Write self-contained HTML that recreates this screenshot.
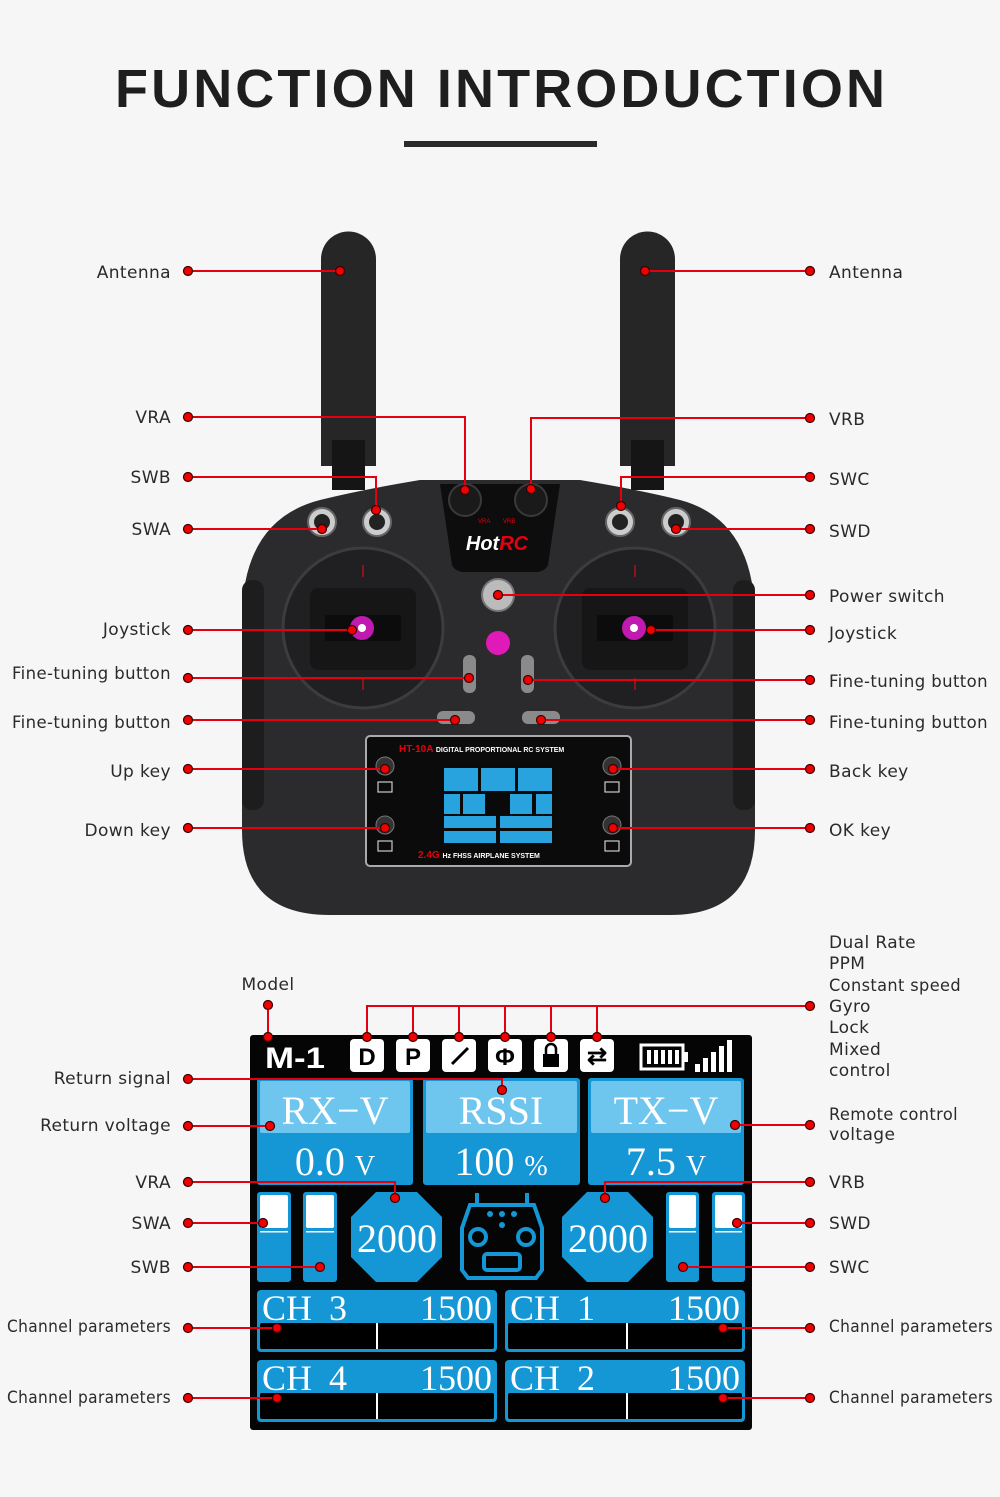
<!DOCTYPE html>
<html><head><meta charset="utf-8"><style>
html,body{margin:0;padding:0;background:#f6f6f6;}
svg{display:block}
.l{font-family:"DejaVu Sans","Liberation Sans",sans-serif;font-size:17px;letter-spacing:0.4px;fill:#2a2a2a}
.r{stroke:#e3000f;stroke-width:2;fill:none}
.d{fill:#f00000;stroke:#3a0000;stroke-width:1.2}
.s{font-family:"Liberation Serif","DejaVu Serif",serif;fill:#fff}
</style></head><body>
<svg width="1000" height="1497" viewBox="0 0 1000 1497" xmlns="http://www.w3.org/2000/svg">
<rect width="1000" height="1497" fill="#f6f6f6"/>
<text x="500" y="107" text-anchor="middle" font-family="Liberation Sans,Arial,sans-serif" font-weight="bold" font-size="54" fill="#1e1e1e" textLength="770" lengthAdjust="spacing">FUNCTION INTRODUCTION</text>
<rect x="404" y="141" width="193" height="6" fill="#2a2a2a"/>

<!-- antennas -->
<g fill="#262626">
<path d="M321 466 V259 a27.5 27.5 0 0 1 55 0 V466 Z"/>
<path d="M620 466 V259 a27.5 27.5 0 0 1 55 0 V466 Z"/>
<rect x="332" y="440" width="33" height="50" fill="#151515"/>
<rect x="631" y="440" width="33" height="50" fill="#151515"/>
</g>
<!-- controller body -->
<path d="M242 620 Q242 520 320 500 Q360 490 420 480 L580 480 Q640 490 680 500 Q755 520 755 620 L755 830 Q755 915 670 915 L330 915 Q242 915 242 830 Z" fill="#2b2b2d"/>
<rect x="242" y="580" width="22" height="230" rx="10" fill="#1d1d1d"/>
<rect x="733" y="580" width="22" height="230" rx="10" fill="#1d1d1d"/>
<path d="M440 484 L560 484 L548 565 Q545 572 535 572 L465 572 Q455 572 452 565 Z" fill="#0d0d0d"/>
<text x="497" y="550" text-anchor="middle" font-family="Liberation Sans,sans-serif" font-weight="bold" font-style="italic" font-size="20" fill="#fff">Hot<tspan fill="#e3000f">RC</tspan></text>
<text x="478" y="523" font-family="Liberation Sans,sans-serif" font-size="6" fill="#e3000f">VRA</text>
<text x="503" y="523" font-family="Liberation Sans,sans-serif" font-size="6" fill="#e3000f">VRB</text>
<circle cx="465" cy="500" r="16" fill="#1a1a1a" stroke="#3a3a3a" stroke-width="2"/>
<circle cx="531" cy="500" r="16" fill="#1a1a1a" stroke="#3a3a3a" stroke-width="2"/>
<g fill="#ccc" stroke="#666" stroke-width="2">
<circle cx="322" cy="522" r="14"/><circle cx="377" cy="522" r="14"/>
<circle cx="620" cy="522" r="14"/><circle cx="676" cy="522" r="14"/>
</g>
<g fill="#222"><circle cx="322" cy="522" r="8"/><circle cx="377" cy="522" r="8"/><circle cx="620" cy="522" r="8"/><circle cx="676" cy="522" r="8"/></g>
<!-- joysticks -->
<g>
<circle cx="363" cy="628" r="80" fill="#202022" stroke="#3c3c3e" stroke-width="3"/>
<circle cx="635" cy="628" r="80" fill="#202022" stroke="#3c3c3e" stroke-width="3"/>
<rect x="310" y="588" width="106" height="82" rx="8" fill="#161616"/>
<rect x="582" y="588" width="106" height="82" rx="8" fill="#161616"/>
<rect x="325" y="615" width="76" height="26" fill="#0c0c0c"/>
<rect x="597" y="615" width="76" height="26" fill="#0c0c0c"/>
<circle cx="362" cy="628" r="12" fill="#c01ab0"/><circle cx="362" cy="628" r="4" fill="#fff"/>
<circle cx="634" cy="628" r="12" fill="#c01ab0"/><circle cx="634" cy="628" r="4" fill="#fff"/>
<g stroke="#b0101a" stroke-width="1.5"><path d="M363 565v12M363 678v12M635 565v12M635 678v12"/></g>
</g>
<circle cx="498" cy="595" r="16" fill="#bbb" stroke="#777" stroke-width="2"/>
<circle cx="498" cy="643" r="12" fill="#e01ab8"/>
<g fill="#8a8a8a"><rect x="463" y="655" width="13" height="38" rx="6"/><rect x="521" y="655" width="13" height="38" rx="6"/>
<rect x="437" y="711" width="38" height="13" rx="6"/><rect x="522" y="711" width="38" height="13" rx="6"/></g>
<!-- small screen -->
<rect x="366" y="736" width="265" height="130" rx="4" fill="#0b0b0b" stroke="#aaa" stroke-width="2"/>
<text x="399" y="752" font-family="Liberation Sans,sans-serif" font-weight="bold" font-size="10" fill="#e3000f">HT-10A <tspan fill="#fff" font-size="7">DIGITAL PROPORTIONAL RC SYSTEM</tspan></text>
<text x="418" y="858" font-family="Liberation Sans,sans-serif" font-weight="bold" font-size="10" fill="#e3000f">2.4G <tspan fill="#fff" font-size="7">Hz FHSS AIRPLANE SYSTEM</tspan></text>
<rect x="443" y="766" width="112" height="80" fill="#0a0a0a"/>
<g fill="#29a3de"><rect x="444" y="768" width="34" height="23"/><rect x="481" y="768" width="34" height="23"/><rect x="518" y="768" width="34" height="23"/>
<rect x="444" y="794" width="16" height="20"/><rect x="463" y="794" width="22" height="20"/><rect x="510" y="794" width="22" height="20"/><rect x="536" y="794" width="16" height="20"/>
<rect x="444" y="816" width="52" height="12"/><rect x="500" y="816" width="52" height="12"/><rect x="444" y="831" width="52" height="12"/><rect x="500" y="831" width="52" height="12"/></g>
<g fill="#333" stroke="#777"><circle cx="385" cy="766" r="9"/><circle cx="385" cy="825" r="9"/><circle cx="612" cy="766" r="9"/><circle cx="612" cy="825" r="9"/></g>
<g fill="none" stroke="#ccc" stroke-width="1.2"><rect x="378" y="782" width="14" height="10"/><rect x="378" y="841" width="14" height="10"/><rect x="605" y="782" width="14" height="10"/><rect x="605" y="841" width="14" height="10"/></g>

<!-- top labels left -->
<g class="l" text-anchor="end">
<text x="171" y="278">Antenna</text><text x="171" y="423">VRA</text><text x="171" y="483">SWB</text><text x="171" y="535">SWA</text>
<text x="171" y="635">Joystick</text><text x="171" y="679" textLength="159" lengthAdjust="spacingAndGlyphs">Fine-tuning button</text><text x="171" y="728" textLength="159" lengthAdjust="spacingAndGlyphs">Fine-tuning button</text>
<text x="171" y="777">Up key</text><text x="171" y="836">Down key</text>
</g>
<g class="l">
<text x="829" y="278">Antenna</text><text x="829" y="425">VRB</text><text x="829" y="485">SWC</text><text x="829" y="537">SWD</text>
<text x="829" y="602">Power switch</text><text x="829" y="639">Joystick</text><text x="829" y="687" textLength="159" lengthAdjust="spacingAndGlyphs">Fine-tuning button</text><text x="829" y="728" textLength="159" lengthAdjust="spacingAndGlyphs">Fine-tuning button</text>
<text x="829" y="777">Back key</text><text x="829" y="836">OK key</text>
</g>
<g class="r">
<path d="M188 271H340M188 417H465V490M188 477H376V510M188 529H322M188 630H352M188 678H469M188 720H455M188 769H385M188 828H385"/>
<path d="M810 271H645M810 418H531V489M810 477H621V506M810 529H676M810 595H498M810 630H651M810 680H528M810 720H541M810 769H613M810 828H613"/>
</g>
<g class="d">
<circle cx="188" cy="271" r="4.5"/><circle cx="340" cy="271" r="4.5"/><circle cx="188" cy="417" r="4.5"/><circle cx="465" cy="490" r="4.5"/>
<circle cx="188" cy="477" r="4.5"/><circle cx="376" cy="510" r="4.5"/><circle cx="188" cy="529" r="4.5"/><circle cx="322" cy="529" r="4.5"/>
<circle cx="188" cy="630" r="4.5"/><circle cx="352" cy="630" r="4.5"/><circle cx="188" cy="678" r="4.5"/><circle cx="469" cy="678" r="4.5"/>
<circle cx="188" cy="720" r="4.5"/><circle cx="455" cy="720" r="4.5"/><circle cx="188" cy="769" r="4.5"/><circle cx="385" cy="769" r="4.5"/>
<circle cx="188" cy="828" r="4.5"/><circle cx="385" cy="828" r="4.5"/>
<circle cx="810" cy="271" r="4.5"/><circle cx="645" cy="271" r="4.5"/><circle cx="810" cy="418" r="4.5"/><circle cx="531" cy="489" r="4.5"/>
<circle cx="810" cy="477" r="4.5"/><circle cx="621" cy="506" r="4.5"/><circle cx="810" cy="529" r="4.5"/><circle cx="676" cy="529" r="4.5"/>
<circle cx="810" cy="595" r="4.5"/><circle cx="498" cy="595" r="4.5"/><circle cx="810" cy="630" r="4.5"/><circle cx="651" cy="630" r="4.5"/>
<circle cx="810" cy="680" r="4.5"/><circle cx="528" cy="680" r="4.5"/><circle cx="810" cy="720" r="4.5"/><circle cx="541" cy="720" r="4.5"/>
<circle cx="810" cy="769" r="4.5"/><circle cx="613" cy="769" r="4.5"/><circle cx="810" cy="828" r="4.5"/><circle cx="613" cy="828" r="4.5"/>
</g>

<!-- LCD -->
<rect x="250" y="1035" width="502" height="395" rx="3" fill="#050505"/>
<text x="265" y="1068" font-family="Liberation Sans,sans-serif" font-weight="bold" font-size="30" fill="#fff" textLength="60" lengthAdjust="spacingAndGlyphs">M-1</text>
<g fill="#fff">
<rect x="350" y="1039" width="34" height="33" rx="4"/><rect x="396" y="1039" width="34" height="33" rx="4"/><rect x="442" y="1039" width="34" height="33" rx="4"/>
<rect x="488" y="1039" width="34" height="33" rx="4"/><rect x="534" y="1039" width="34" height="33" rx="4"/><rect x="580" y="1039" width="34" height="33" rx="4"/>
</g>
<g font-family="Liberation Sans,sans-serif" font-weight="bold" font-size="24" fill="#000" text-anchor="middle">
<text x="367" y="1065">D</text><text x="413" y="1065">P</text><text x="505" y="1065">Φ</text><text x="597" y="1064">⇄</text></g>
<path d="M452 1064 L468 1048" stroke="#000" stroke-width="3"/>
<rect x="543" y="1054" width="16" height="13" fill="#000"/><path d="M546 1054v-5a5 5 0 0 1 10 0v5" stroke="#000" stroke-width="2.5" fill="none"/>
<rect x="641" y="1045" width="42" height="24" fill="none" stroke="#fff" stroke-width="3"/>
<g fill="#fff"><rect x="647" y="1050" width="4" height="14"/><rect x="654" y="1050" width="4" height="14"/><rect x="661" y="1050" width="4" height="14"/><rect x="668" y="1050" width="4" height="14"/><rect x="675" y="1050" width="4" height="14"/><rect x="684" y="1052" width="4" height="10"/>
<rect x="695" y="1064" width="5" height="8"/><rect x="703" y="1058" width="5" height="14"/><rect x="711" y="1052" width="5" height="20"/><rect x="719" y="1046" width="5" height="26"/><rect x="727" y="1040" width="5" height="32"/></g>
<!-- value boxes -->
<g>
<rect x="257" y="1078" width="156" height="107" rx="3" fill="#1597d6"/><rect x="260" y="1081" width="150" height="52" rx="2" fill="#6ec5ee"/>
<rect x="423" y="1078" width="157" height="107" rx="3" fill="#1597d6"/><rect x="426" y="1081" width="151" height="52" rx="2" fill="#6ec5ee"/>
<rect x="588" y="1078" width="156" height="107" rx="3" fill="#1597d6"/><rect x="591" y="1081" width="150" height="52" rx="2" fill="#6ec5ee"/>
</g>
<g class="s" font-size="40" text-anchor="middle">
<text x="335" y="1124">RX−V</text><text x="501" y="1124">RSSI</text><text x="666" y="1124">TX−V</text>
<text x="335" y="1175">0.0 <tspan font-size="28">V</tspan></text><text x="501" y="1175">100 <tspan font-size="28">%</tspan></text><text x="666" y="1175">7.5 <tspan font-size="28">V</tspan></text>
</g>
<!-- sliders -->
<g fill="#1597d6"><rect x="257" y="1192" width="34" height="90" rx="3"/><rect x="303" y="1192" width="34" height="90" rx="3"/><rect x="666" y="1192" width="33" height="90" rx="3"/><rect x="712" y="1192" width="33" height="90" rx="3"/></g>
<g fill="#fff"><rect x="260" y="1195" width="28" height="33" rx="2"/><rect x="306" y="1195" width="28" height="33" rx="2"/><rect x="669" y="1195" width="27" height="33" rx="2"/><rect x="715" y="1195" width="27" height="33" rx="2"/>
<rect x="260" y="1231" width="28" height="1.5"/><rect x="306" y="1231" width="28" height="1.5"/><rect x="669" y="1231" width="27" height="1.5"/><rect x="715" y="1231" width="27" height="1.5"/></g>
<!-- octagons -->
<polygon points="376,1192 417,1192 442,1217 442,1257 417,1282 376,1282 351,1257 351,1217" fill="#1597d6"/>
<polygon points="587,1192 628,1192 653,1217 653,1257 628,1282 587,1282 562,1257 562,1217" fill="#1597d6"/>
<g class="s" font-size="40" text-anchor="middle"><text x="397" y="1252">2000</text><text x="608" y="1252">2000</text></g>
<!-- controller icon -->
<g stroke="#1597d6" stroke-width="4" fill="none">
<path d="M462 1228 L470 1205 L534 1205 L542 1228 L542 1270 L536 1278 L468 1278 L462 1270 Z"/>
<path d="M477 1193v12M527 1193v12"/>
<circle cx="478" cy="1237" r="8"/><circle cx="526" cy="1237" r="8"/>
<rect x="484" y="1254" width="36" height="16" rx="3"/>
</g>
<g fill="#1597d6"><circle cx="490" cy="1214" r="3"/><circle cx="502" cy="1214" r="3"/><circle cx="514" cy="1214" r="3"/><circle cx="502" cy="1225" r="3"/></g>
<!-- CH boxes -->
<g fill="#1597d6"><rect x="257" y="1290" width="240" height="62" rx="4"/><rect x="505" y="1290" width="240" height="62" rx="4"/><rect x="257" y="1360" width="240" height="62" rx="4"/><rect x="505" y="1360" width="240" height="62" rx="4"/></g>
<g fill="#000"><rect x="260" y="1323" width="234" height="26" rx="2"/><rect x="508" y="1323" width="234" height="26" rx="2"/><rect x="260" y="1393" width="234" height="26" rx="2"/><rect x="508" y="1393" width="234" height="26" rx="2"/></g>
<g fill="#fff"><rect x="376" y="1323" width="2" height="26"/><rect x="626" y="1323" width="2" height="26"/><rect x="376" y="1393" width="2" height="26"/><rect x="626" y="1393" width="2" height="26"/></g>
<g class="s" font-size="36">
<text x="262" y="1320">CH <tspan dx="8">3</tspan></text><text x="510" y="1320">CH <tspan dx="8">1</tspan></text><text x="262" y="1390">CH <tspan dx="8">4</tspan></text><text x="510" y="1390">CH <tspan dx="8">2</tspan></text>
</g>
<g class="s" font-size="36" text-anchor="end"><text x="492" y="1320">1500</text><text x="740" y="1320">1500</text><text x="492" y="1390">1500</text><text x="740" y="1390">1500</text></g>

<!-- bottom labels -->
<g class="l" text-anchor="end">
<text x="171" y="1084">Return signal</text><text x="171" y="1131">Return voltage</text><text x="171" y="1188">VRA</text>
<text x="171" y="1229">SWA</text><text x="171" y="1273">SWB</text><text x="171" y="1332" textLength="164" lengthAdjust="spacingAndGlyphs">Channel parameters</text><text x="171" y="1403" textLength="164" lengthAdjust="spacingAndGlyphs">Channel parameters</text>
</g>
<text x="268" y="990" class="l" text-anchor="middle">Model</text>
<g class="l">
<text x="829" y="948">Dual Rate</text><text x="829" y="969">PPM</text><text x="829" y="991" textLength="132" lengthAdjust="spacingAndGlyphs">Constant speed</text><text x="829" y="1012">Gyro</text>
<text x="829" y="1033">Lock</text><text x="829" y="1055">Mixed</text><text x="829" y="1076">control</text>
<text x="829" y="1120" textLength="129" lengthAdjust="spacingAndGlyphs">Remote control</text><text x="829" y="1140">voltage</text>
<text x="829" y="1188">VRB</text><text x="829" y="1229">SWD</text><text x="829" y="1273">SWC</text>
<text x="829" y="1332" textLength="164" lengthAdjust="spacingAndGlyphs">Channel parameters</text><text x="829" y="1403" textLength="164" lengthAdjust="spacingAndGlyphs">Channel parameters</text>
</g>
<g class="r">
<path d="M268 1005V1037M810 1006H367V1037M413 1006V1037M459 1006V1037M505 1006V1037M551 1006V1037M597 1006V1037"/>
<path d="M188 1079H502V1090M188 1126H270M188 1182H395V1198M188 1223H263M188 1267H320M188 1328H277M188 1398H277"/>
<path d="M810 1125H735M810 1182H605V1198M810 1223H737M810 1267H683M810 1328H723M810 1398H723"/>
</g>
<g class="d">
<circle cx="268" cy="1005" r="4.5"/><circle cx="268" cy="1037" r="4.5"/><circle cx="810" cy="1006" r="4.5"/>
<circle cx="367" cy="1037" r="4.5"/><circle cx="413" cy="1037" r="4.5"/><circle cx="459" cy="1037" r="4.5"/><circle cx="505" cy="1037" r="4.5"/><circle cx="551" cy="1037" r="4.5"/><circle cx="597" cy="1037" r="4.5"/>
<circle cx="188" cy="1079" r="4.5"/><circle cx="502" cy="1090" r="4.5"/><circle cx="188" cy="1126" r="4.5"/><circle cx="270" cy="1126" r="4.5"/>
<circle cx="188" cy="1182" r="4.5"/><circle cx="395" cy="1198" r="4.5"/><circle cx="188" cy="1223" r="4.5"/><circle cx="263" cy="1223" r="4.5"/>
<circle cx="188" cy="1267" r="4.5"/><circle cx="320" cy="1267" r="4.5"/><circle cx="188" cy="1328" r="4.5"/><circle cx="277" cy="1328" r="4.5"/>
<circle cx="188" cy="1398" r="4.5"/><circle cx="277" cy="1398" r="4.5"/>
<circle cx="810" cy="1125" r="4.5"/><circle cx="735" cy="1125" r="4.5"/><circle cx="810" cy="1182" r="4.5"/><circle cx="605" cy="1198" r="4.5"/>
<circle cx="810" cy="1223" r="4.5"/><circle cx="737" cy="1223" r="4.5"/><circle cx="810" cy="1267" r="4.5"/><circle cx="683" cy="1267" r="4.5"/>
<circle cx="810" cy="1328" r="4.5"/><circle cx="723" cy="1328" r="4.5"/><circle cx="810" cy="1398" r="4.5"/><circle cx="723" cy="1398" r="4.5"/>
</g>
</svg>
</body></html>
